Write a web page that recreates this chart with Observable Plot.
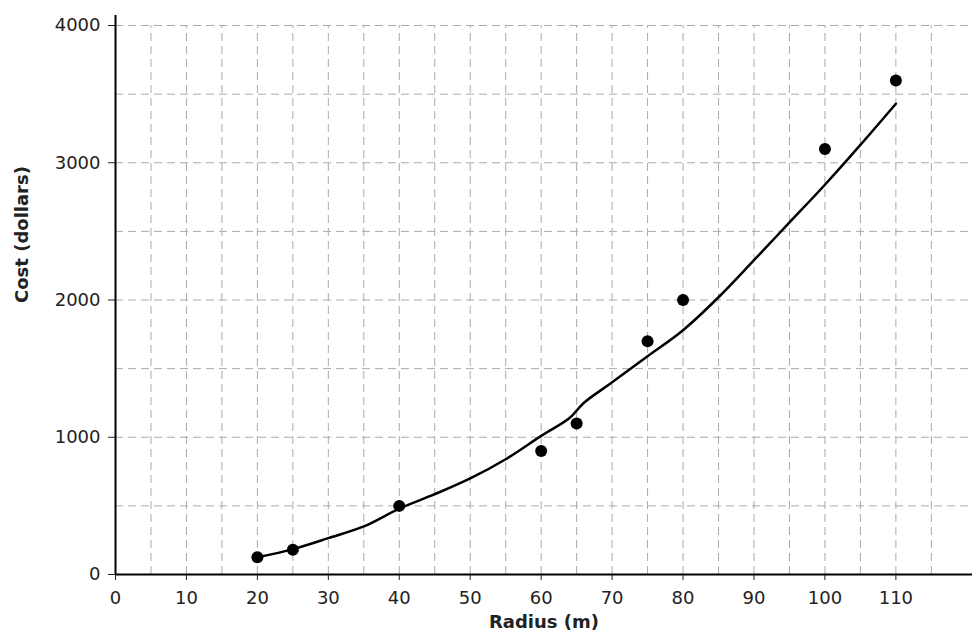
<!DOCTYPE html>
<html><head><meta charset="utf-8">
<script src="https://cdn.jsdelivr.net/npm/d3@7"></script>
<script src="https://cdn.jsdelivr.net/npm/@observablehq/plot@0.6"></script>
<style>body{margin:0;background:#fff}</style>
</head><body><div id="chart"></div>
<script>
// Observed data points
const radius = [20, 25, 40, 60, 65, 75, 80, 100, 110];
const cost = [125, 180, 500, 900, 1100, 1700, 2000, 3100, 3600];
// Hand-drawn trend curve
const curveRadius = [20, 25, 30, 35, 40, 45, 50, 55, 60, 64, 66, 70, 75, 80, 85, 90, 95, 100, 105, 110];
const curveCost = [125, 185, 265, 350, 480, 585, 700, 840, 1010, 1140, 1250, 1400, 1590, 1780, 2020, 2290, 2565, 2840, 3130, 3430];
// Axis ticks and grid
const xTicks = [0, 10, 20, 30, 40, 50, 60, 70, 80, 90, 100, 110];
const yTicks = [0, 1000, 2000, 3000, 4000];
const xGrid = [5, 10, 15, 20, 25, 30, 35, 40, 45, 50, 55, 60, 65, 70, 75, 80, 85, 90, 95, 100, 105, 110, 115];
const yGrid = [500, 1000, 1500, 2000, 2500, 3000, 3500, 4000];
const xLabel = "Radius (m)";
const yLabel = "Cost (dollars)";

const points = radius.map((r, i) => ({radius: r, cost: cost[i]}));
const curve = curveRadius.map((r, i) => ({radius: r, cost: curveCost[i]}));

const chart = Plot.plot({
  width: 972,
  height: 643,
  marginLeft: 115,
  marginRight: 0,
  marginTop: 15,
  marginBottom: 69,
  style: {fontFamily: "DejaVu Sans", fontSize: "18px", color: "#222", background: "#fff"},
  x: {domain: [0, 120.8], ticks: xTicks, tickFormat: d => String(d), tickSize: 6, tickPadding: 11, label: null},
  y: {domain: [0, 4073], ticks: yTicks, tickFormat: d => String(d), tickSize: 7, tickPadding: 8, label: null},
  marks: [
    Plot.ruleX(xGrid, {y1: 0, y2: 4000, stroke: "#aaa", strokeWidth: 1, strokeDasharray: "8,5"}),
    Plot.ruleY(yGrid, {stroke: "#aaa", strokeWidth: 1, strokeDasharray: "8,5"}),
    Plot.ruleX([0], {stroke: "#000", strokeWidth: 2}),
    Plot.ruleY([0], {stroke: "#000", strokeWidth: 2}),
    Plot.line(curve, {x: "radius", y: "cost", stroke: "#000", strokeWidth: 2.5, curve: "catmull-rom"}),
    Plot.dot(points, {x: "radius", y: "cost", r: 6, fill: "#000", stroke: "none"}),
    Plot.text([xLabel], {text: d => d, frameAnchor: "bottom", dy: 53, fontWeight: "bold", fontSize: 18, fill: "#222"}),
    Plot.text([yLabel], {text: d => d, frameAnchor: "left", rotate: -90, dx: -93, dy: 8, fontWeight: "bold", fontSize: 18, fill: "#222"})
  ]
});
document.getElementById("chart").appendChild(chart);
</script>
</body></html>
